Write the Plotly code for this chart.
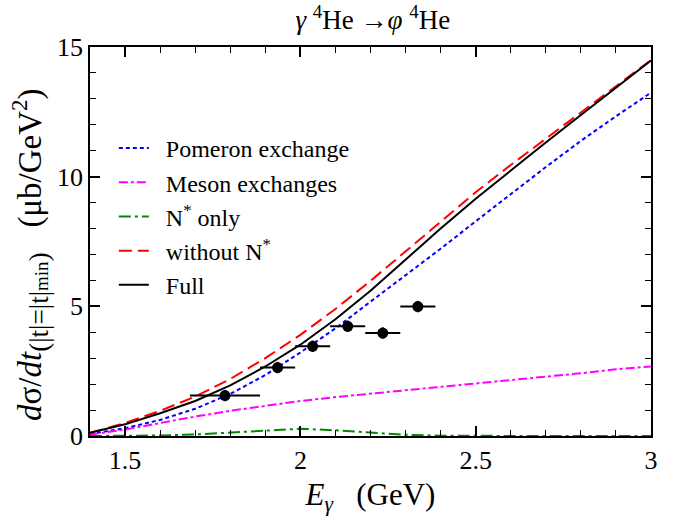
import plotly.graph_objects as go

# Photon energy grid (GeV)
E = [1.4, 1.5, 1.6, 1.7, 1.8, 1.9, 2.0, 2.1, 2.2, 2.3, 2.4, 2.5, 2.6, 2.7, 2.8, 2.9, 3.0]

pomeron = [0.08, 0.30, 0.62, 1.05, 1.62, 2.35, 3.22, 4.15, 5.18, 6.20, 7.22, 8.28, 9.33, 10.37, 11.38, 12.33, 13.24]
meson = [0.05, 0.25, 0.50, 0.75, 0.97, 1.17, 1.35, 1.50, 1.63, 1.77, 1.90, 2.02, 2.14, 2.27, 2.42, 2.57, 2.68]
nstar = [0.0, 0.0, 0.02, 0.06, 0.13, 0.22, 0.28, 0.22, 0.13, 0.05, 0.01, 0.0, 0.0, 0.0, 0.0, 0.0, 0.0]
without_nstar = [0.12, 0.50, 0.97, 1.52, 2.20, 3.00, 3.90, 4.90, 5.98, 7.12, 8.28, 9.40, 10.45, 11.47, 12.48, 13.49, 14.50]
full = [0.12, 0.45, 0.88, 1.35, 1.95, 2.68, 3.52, 4.50, 5.60, 6.80, 8.00, 9.15, 10.25, 11.32, 12.38, 13.43, 14.48]

# Experimental data
data_E = [1.785, 1.935, 2.035, 2.135, 2.235, 2.335]
data_y = [1.56, 2.64, 3.46, 4.23, 3.97, 4.99]
data_xerr_minus = [0.10, 0.05, 0.05, 0.05, 0.05, 0.05]
data_xerr_plus = [0.10, 0.05, 0.05, 0.05, 0.05, 0.05]
data_yerr = [0.22, 0.22, 0.22, 0.22, 0.22, 0.22]

FONT = "Liberation Serif, Times New Roman, Times, serif"
SP = "\u00a0\u00a0"
NB = "\u00a0"

fig = go.Figure()

series = [
    (SP + "Pomeron exchange", pomeron, "#0000ff", "4px,3px"),
    (SP + "Meson exchanges", meson, "#ff00ff", "9px,3px,3px,3px"),
    (SP + "N<sup>*</sup> only", nstar, "#008800", "12px,4px,3px,4px"),
    (SP + "without N<sup>*</sup>", without_nstar, "#ff0000", "13px,6px"),
    (SP + "Full", full, "#000000", "solid"),
]
for i, (name, ys, col, dash) in enumerate(series):
    fig.add_trace(go.Scatter(
        x=E, y=ys, mode="lines", name=name, legendgroup=f"g{i}",
        line=dict(color=col, width=2, dash=dash),
    ))

fig.add_trace(go.Scatter(
    x=data_E, y=data_y, mode="markers", showlegend=False,
    marker=dict(color="black", size=11),
    error_x=dict(type="data", symmetric=False, array=data_xerr_plus,
                 arrayminus=data_xerr_minus, color="black", thickness=2, width=0),
    error_y=dict(type="data", array=data_yerr, color="black", thickness=2, width=0),
))

axis_common = dict(
    showline=True, linecolor="black", linewidth=1.5, mirror="ticks",
    ticks="inside", ticklen=10, tickwidth=1.5, tickcolor="black",
    showgrid=False, zeroline=False,
    tickfont=dict(family=FONT, size=26, color="black"),
)

fig.update_xaxes(
    range=[1.4, 3.0], tickvals=[1.5, 2.0, 2.5, 3.0], ticktext=["1.5", "2", "2.5", "3"],
    minor=dict(dtick=0.1, tick0=1.4, ticks="inside", ticklen=6, tickwidth=1.2, tickcolor="black"),
    title=dict(text="<i>E</i><sub><i>γ</i></sub>" + NB * 3 + "(GeV)", font=dict(family=FONT, size=31, color="black"), standoff=9),
    **axis_common,
)
fig.update_yaxes(
    range=[0, 15], tickvals=[0, 5, 10, 15],
    minor=dict(dtick=1, tick0=0, ticks="inside", ticklen=6, tickwidth=1.2, tickcolor="black"),
    **axis_common,
)

ytitle = ("<i>d</i>σ/<i>dt</i><sub><span style=\"font-size:27px\">(|t|=|t|</span>"
          "<span style=\"font-size:19px\">min</span><span style=\"font-size:27px\">)</span></sub>"
          + NB * 3 + "(μb/GeV<sup>2</sup>)")
fig.add_annotation(
    text=ytitle, textangle=-90, xref="paper", yref="paper",
    x=-0.107, y=0.468, xanchor="center", yanchor="middle", showarrow=False,
    font=dict(family=FONT, size=33, color="black"),
)

fig.update_layout(
    width=684, height=518,
    margin=dict(l=90, r=33, t=47, b=77),
    paper_bgcolor="white", plot_bgcolor="white",
    font=dict(family=FONT, color="black"),
    title=dict(text="<i>γ</i> <sup>4</sup>He →<i>φ</i> <sup>4</sup>He", x=0.545, xanchor="center",
               y=0.962, yanchor="middle", yref="container",
               font=dict(family=FONT, size=27, color="black")),
    legend=dict(x=0.0425, y=0.797, xanchor="left", yanchor="top",
                bgcolor="rgba(0,0,0,0)", traceorder="grouped", tracegroupgap=0,
                font=dict(family=FONT, size=24, color="black")),
)

fig.write_html("out.html")
